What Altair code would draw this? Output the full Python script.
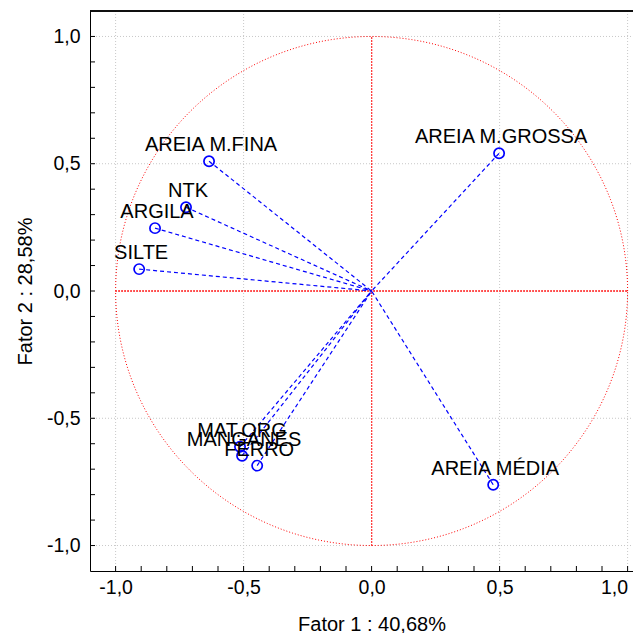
import altair as alt
import pandas as pd
import numpy as np

# ---- data ----
VARIABLES = ["AREIA M.GROSSA", "AREIA M.FINA", "NTK", "ARGILA", "SILTE",
             "AREIA MÉDIA", "MAT.ORG", "MANGANES", "FERRO"]
FACTOR1 = [0.498, -0.635, -0.725, -0.846, -0.908, 0.475, -0.514, -0.506, -0.447]
FACTOR2 = [0.541, 0.510, 0.329, 0.247, 0.086, -0.761, -0.612, -0.647, -0.686]
AXIS_VALUES = [-1.0, -0.5, 0.0, 0.5, 1.0]
GRID_VALUES = [-1.0, -0.5, 0.5, 1.0]
MINOR_TICKS = [-1.0, -0.9, -0.8, -0.7, -0.6, -0.5, -0.4, -0.3, -0.2, -0.1, 0.0,
               0.1, 0.2, 0.3, 0.4, 0.5, 0.6, 0.7, 0.8, 0.9, 1.0]
X_TITLE = "Fator 1 : 40,68%"
Y_TITLE = "Fator 2 : 28,58%"

# unit circle (reference geometry)
ANGLES = np.linspace(0, 2 * np.pi, 241)

FONT = "Liberation Sans"
W, H = 543, 560

pts = pd.DataFrame({"var": VARIABLES, "x": FACTOR1, "y": FACTOR2})
circ = pd.DataFrame({"cx": np.cos(ANGLES), "cy": np.sin(ANGLES), "o": np.arange(len(ANGLES))})
ticks = pd.DataFrame({"t": MINOR_TICKS})
grid = pd.DataFrame({"g": GRID_VALUES})

xs = alt.Scale(domain=[-1.1, W / 256 - 1.1], nice=False, zero=False)
ys = alt.Scale(domain=[-1.1, 1.1], nice=False, zero=False)

LBL = "(datum.value < 0 ? '-' : '') + replace(format(abs(datum.value), '.1f'), '.', ',')"

common_axis = dict(values=AXIS_VALUES, labelExpr=LBL, grid=False, ticks=False, tickSize=0,
                   domain=True, domainColor="black", domainWidth=1,
                   labelFont=FONT, labelFontSize=19.5, labelColor="black",
                   labelFlush=False, labelOverlap=False,
                   titleFont=FONT, titleFontSize=20, titleFontWeight="normal",
                   titleColor="black", titleBaseline="middle")

xaxis = alt.Axis(title=X_TITLE, labelPadding=7, titleX=281.5, titleY=53,
                 labelAlign=alt.ConditionalAxisLabelAlign(
                     condition={"test": "datum.value >= 1", "value": "right"}, value="center"),
                 **common_axis)
yaxis = alt.Axis(title=Y_TITLE, labelPadding=10, titleX=-65, titleY=280, titleAngle=270,
                 **common_axis)

X = lambda f: alt.X(f, scale=xs, axis=xaxis)
Y = lambda f: alt.Y(f, scale=ys, axis=yaxis)

gx = alt.Chart(grid).mark_rule(color="#c8c8c8", strokeWidth=1, strokeDash=[1, 2]).encode(
    x=X("g:Q"), y=alt.value(0), y2=alt.value(H))
gy = alt.Chart(grid).mark_rule(color="#c8c8c8", strokeWidth=1, strokeDash=[1, 2]).encode(
    y=Y("g:Q"), x=alt.value(0), x2=alt.value(W))

red_circle = alt.Chart(circ).mark_line(color="#ff0000", strokeWidth=1, strokeDash=[1, 2]).encode(
    x=X("cx:Q"), y=Y("cy:Q"), order="o:Q")

red_v = alt.Chart(pts).mark_rule(color="#ff4040", strokeWidth=0.8, strokeDash=[1, 2]).encode(
    x=alt.XDatum(0, scale=xs, axis=xaxis), y=alt.YDatum(-1, scale=ys, axis=yaxis),
    y2=alt.datum(1))
red_h = alt.Chart(pts).mark_rule(color="#ff4040", strokeWidth=0.8, strokeDash=[1, 2]).encode(
    y=alt.YDatum(0, scale=ys, axis=yaxis), x=alt.XDatum(-1, scale=xs, axis=xaxis),
    x2=alt.datum(1))

vectors = alt.Chart(pts).mark_rule(color="#0000ff", strokeWidth=1.2, strokeDash=[4, 3]).encode(
    x=X("x:Q"), y=Y("y:Q"), x2=alt.datum(0), y2=alt.datum(0))

points = alt.Chart(pts).mark_point(shape="circle", filled=False, color="#0000ff",
                                   size=105, strokeWidth=1.7, opacity=1).encode(
    x=X("x:Q"), y=Y("y:Q"))

labels = alt.Chart(pts).mark_text(dy=-10, dx=2, baseline="alphabetic", align="center",
                                  font=FONT, fontSize=20, color="black").encode(
    x=X("x:Q"), y=Y("y:Q"), text="var:N")

xticks = alt.Chart(ticks).mark_rule(color="black", strokeWidth=1).encode(
    x=X("t:Q"), y=alt.value(H), y2=alt.value(H - 5))
yticks = alt.Chart(ticks).mark_rule(color="black", strokeWidth=1).encode(
    y=Y("t:Q"), x=alt.value(0), x2=alt.value(5))

top_border = alt.Chart(grid).mark_rule(color="black", strokeWidth=1).encode(
    y=alt.value(0), x=alt.value(0), x2=alt.value(W + 5))

chart = alt.layer(gx, gy, red_circle, red_v, red_h, vectors, points, labels,
                  xticks, yticks, top_border).properties(
    width=W, height=H,
    padding={"left": 82, "top": 3, "right": 0, "bottom": 62},
    autosize=alt.AutoSizeParams(type="none"),
    background="white",
).configure_view(stroke=None)

chart.save("out.html", embed_options={"renderer": "svg", "actions": False})
